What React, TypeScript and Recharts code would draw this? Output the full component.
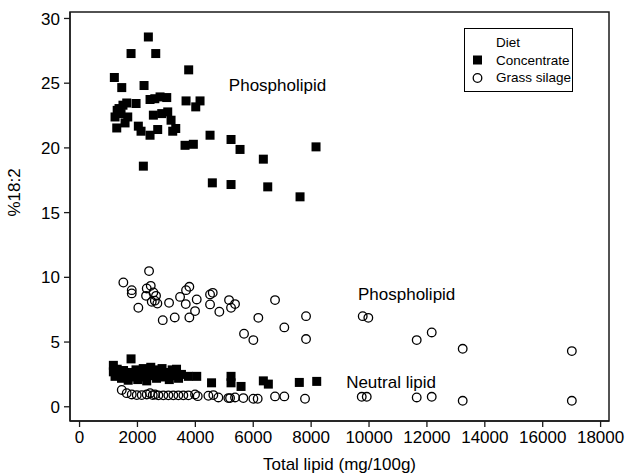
import React from "react"
import {
  ScatterChart,
  Scatter,
  XAxis,
  YAxis,
  Legend,
  ReferenceDot,
} from "recharts"

// [total lipid mg/100g, %18:2]
const concentratePL = [
  [2377, 28.57], [1779, 27.29], [2632, 27.29], [3770, 26.03], [1202, 25.44], [1458, 24.66], [2228, 24.82],
  [1630, 23.47], [1952, 23.43], [1364, 23.04], [2435, 23.74], [2781, 23.94], [3012, 23.89], [3679, 23.63],
  [4162, 23.63], [4014, 23.17], [1226, 22.39], [1433, 22.65], [1665, 22.39], [2550, 22.53], [2839, 22.65],
  [3046, 22.78], [3161, 22.14], [1285, 21.54], [1572, 21.93], [2031, 21.68], [2124, 21.29], [2435, 20.98],
  [2700, 21.42], [3219, 21.29], [3323, 21.5], [3644, 20.2], [3931, 20.28], [4508, 20.98], [5233, 20.65],
  [5544, 19.88], [6349, 19.13], [8169, 20.08], [2204, 18.59], [4587, 17.3], [5233, 17.17], [6501, 16.99],
  [7617, 16.22], [1300, 22.9], [2600, 23.8], [1500, 23.3],
]
const concentrateNL = [
  [1168, 3.2], [1168, 2.7], [1226, 2.35], [1300, 2.9], [1360, 2.5], [1450, 2.2], [1520, 2.8], [1600, 2.45],
  [1680, 2.05], [1779, 3.7], [1760, 2.65], [1860, 2.3], [1950, 2.85], [2010, 2.1], [2110, 2.6], [2200, 2.95],
  [2260, 2.3], [2320, 2.0], [2410, 2.7], [2460, 3.05], [2520, 2.4], [2610, 2.85], [2660, 2.2], [2760, 2.55],
  [2850, 2.95], [2910, 2.3], [3010, 2.65], [3100, 2.1], [3200, 2.85], [3260, 2.4], [3350, 2.9], [3420, 2.2],
  [3520, 2.5], [3759, 2.35], [4048, 2.35], [4560, 1.85], [5233, 2.35], [5233, 1.85], [5579, 1.57],
  [6349, 2.0], [6522, 1.75], [7592, 1.88], [8193, 1.96],
]
const grassPL = [
  [2401, 10.48], [1513, 9.6], [1803, 9.01], [1803, 8.76], [2321, 9.14], [2459, 9.34], [2297, 8.57],
  [2550, 8.83], [2642, 8.57], [2494, 8.11], [2688, 7.98], [2031, 7.65], [3092, 8.03], [3472, 8.49],
  [3679, 9.01], [3793, 9.27], [3668, 7.93], [4048, 8.29], [3990, 7.39], [3793, 6.9], [3288, 6.9],
  [2874, 6.69], [4508, 8.68], [4601, 8.8], [4508, 7.91], [4829, 7.34], [5164, 8.24], [5371, 7.93],
  [5233, 7.65], [6753, 8.24], [6176, 6.87], [5682, 5.64], [6004, 5.15], [7074, 6.13], [7824, 7.0],
  [7824, 5.23], [9782, 7.0], [9976, 6.87], [11647, 5.15], [12166, 5.74], [13236, 4.48], [17006, 4.3],
  [2600, 8.2],
]
const grassNL = [
  [1458, 1.3], [1630, 1.05], [1803, 0.95], [1976, 0.9], [2148, 0.9], [2321, 0.95], [2435, 1.05],
  [2528, 0.9], [2608, 0.95], [2723, 0.88], [2895, 0.88], [3068, 0.88], [3240, 0.88], [3413, 0.88],
  [3586, 0.88], [3759, 0.88], [3990, 0.95], [4083, 0.82], [4450, 0.85], [4622, 0.9], [4795, 0.72],
  [5140, 0.67], [5199, 0.67], [5371, 0.72], [5658, 0.67], [6004, 0.62], [6154, 0.62], [6753, 0.8],
  [7074, 0.8], [7789, 0.62], [9748, 0.77], [9921, 0.77], [11647, 0.72], [12166, 0.77], [13236, 0.46],
  [17006, 0.46],
]

const xTicks = [0, 2000, 4000, 6000, 8000, 10000, 12000, 14000, 16000, 18000]
const yTicks = [0, 5, 10, 15, 20, 25, 30]
const xDomain = [-330, 18290]
const yDomain = [-1.1, 30.5]

const annotations = [
  { text: "Phospholipid", x: 6840, y: 24.84 },
  { text: "Phospholipid", x: 11300, y: 8.7 },
  { text: "Neutral lipid", x: 10760, y: 1.9 },
]

const FONT = "'Liberation Sans', Arial, sans-serif"
const INK = "#1a1a1a"

const toPoints = (rows: number[][]) => rows.map(([x, y]) => ({ x, y }))
const concentrate = [...toPoints(concentratePL), ...toPoints(concentrateNL)]
const grass = [...toPoints(grassPL), ...toPoints(grassNL)]

const Square = (p: any) => <rect x={p.cx - 4.5} y={p.cy - 4.5} width={9} height={9} fill="#000" />
const Ring = (p: any) => <circle cx={p.cx} cy={p.cy} r={4.3} fill="none" stroke="#000" strokeWidth={1.3} />

function DietLegend() {
  const row = { display: "flex", alignItems: "center", height: 17.5, whiteSpace: "nowrap" as const }
  return (
    <div
      style={{
        border: "1px solid #000",
        background: "#fff",
        fontFamily: FONT,
        fontSize: 13.5,
        color: "#000",
        padding: "5px 3px 4px 6px",
        width: 98,
        boxSizing: "content-box",
        lineHeight: "17.5px",
        whiteSpace: "nowrap",
      }}
    >
      <div style={{ paddingLeft: 25 }}>Diet</div>
      <div style={row}>
        <svg width={25} height={12} style={{ flex: "none" }}><rect x={2} y={1.5} width={9} height={9} fill="#000" /></svg>
        <span>Concentrate</span>
      </div>
      <div style={row}>
        <svg width={25} height={12} style={{ flex: "none" }}><circle cx={6.5} cy={6} r={4.3} fill="none" stroke="#000" strokeWidth={1.3} /></svg>
        <span>Grass silage</span>
      </div>
    </div>
  )
}

export default function App() {
  const tick = { fill: "#000", fontSize: 17, fontFamily: FONT }
  return (
    <div style={{ position: "absolute", left: 0, top: 0, width: 625, height: 476, background: "#fff" }}>
      <ScatterChart width={625} height={476} margin={{ top: 12, right: 16, bottom: 0, left: 0 }}>
        <XAxis
          type="number"
          dataKey="x"
          domain={xDomain}
          ticks={xTicks}
          allowDataOverflow
          height={55}
          tick={tick}
          tickSize={6}
          tickMargin={4}
          stroke={INK}
          strokeWidth={1.3}
          label={{ value: "Total lipid (mg/100g)", position: "insideBottom", offset: 6, fill: "#000", fontSize: 17, fontFamily: FONT }}
        />
        <YAxis
          type="number"
          dataKey="y"
          domain={yDomain}
          ticks={yTicks}
          allowDataOverflow
          width={70}
          tick={tick}
          tickSize={6}
          tickMargin={4}
          stroke={INK}
          strokeWidth={1.3}
          label={{ value: "%18:2", angle: -90, position: "insideLeft", offset: 14, fill: "#000", fontSize: 17, fontFamily: FONT }}
        />
        {annotations.map((a, i) => (
          <ReferenceDot
            key={i}
            x={a.x}
            y={a.y}
            r={0}
            fill="none"
            stroke="none"
            label={{ value: a.text, position: "center", fill: "#000", fontSize: 17, fontFamily: FONT }}
          />
        ))}
        <Scatter name="Concentrate" data={concentrate} shape={Square} isAnimationActive={false} />
        <Scatter name="Grass silage" data={grass} shape={Ring} isAnimationActive={false} />
        <Legend
          layout="vertical"
          align="center"
          verticalAlign="middle"
          content={() => <DietLegend />}
          wrapperStyle={{ left: 464, top: 28, width: "auto", height: "auto" }}
        />
      </ScatterChart>
      {/* plot frame around the scatter area */}
      <svg
        width={625}
        height={476}
        style={{ position: "absolute", left: 0, top: 0, zIndex: 5, pointerEvents: "none" }}
      >
        <rect x={70} y={12} width={539} height={409} fill="none" stroke={INK} strokeWidth={1.5} />
      </svg>
    </div>
  )
}
